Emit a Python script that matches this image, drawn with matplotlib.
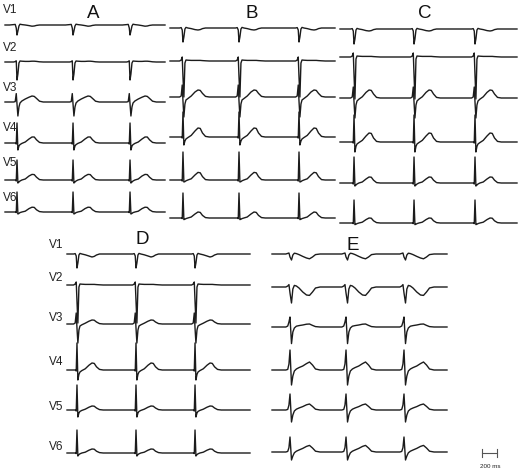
import numpy as np
import matplotlib
matplotlib.use("Agg")
import matplotlib.pyplot as plt

plt.rcParams['font.family'] = ['Liberation Sans', 'DejaVu Sans']

# figure size in pixels and trace scaling (200 ms bar = 15 px)
W, H = 520, 471
PX_PER_MS = 0.075
PX_PER_MV = 20.0

LEADS = ["V1", "V2", "V3", "V4", "V5", "V6"]

# knot times (ms, relative to QRS) shared by panels A-D, and wider ones for E
KNOTS_MS = [-100, -45, -24, -10, 0, 12, 26, 40, 65, 110, 160, 200, 230, 260, 300, 350]
E_KNOTS_MS = [-100, -55, -30, -14, 0, 20, 38, 58, 85, 120, 170, 220, 260, 300, 340, 400]

# QRS times (ms from start of each trace)
A_BEATS = [160, 907, 1667]
B_BEATS = [173, 920, 1720]
C_BEATS = [187, 987, 1800]
D_BEATS = [133, 920, 1707]
E_BEATS = [240, 987, 1760]

# amplitudes (mV) at each knot, V1..V6
A_AMPS = [
    [0, 0.02, 0.03, -0.15, -0.5, -0.3, -0.05, 0.04, 0.02, 0.0, -0.03, -0.06, -0.05, -0.02, 0.0, 0],
    [0, 0, 0.02, 0.06, -0.9, -0.6, -0.05, 0.05, 0.04, 0.03, 0.03, 0.04, 0.04, 0.03, 0.01, 0],
    [0, 0, 0.02, 0.42, -0.1, -0.7, -0.25, -0.05, 0.05, 0.15, 0.24, 0.3, 0.28, 0.18, 0.04, 0],
    [0, 0, 0, -0.05, 1.0, -0.35, -0.15, -0.08, -0.02, 0.05, 0.2, 0.3, 0.3, 0.16, 0.03, 0],
    [0, 0, 0, -0.05, 1.0, -0.15, -0.1, -0.05, 0, 0.05, 0.2, 0.28, 0.27, 0.14, 0.02, 0],
    [0, 0, 0, -0.03, 1.0, -0.1, -0.07, -0.03, 0, 0.04, 0.17, 0.24, 0.23, 0.11, 0.02, 0],
]
B_AMPS = [
    [0, 0, 0.02, -0.1, -0.7, -0.45, -0.05, 0.03, 0.0, -0.03, -0.08, -0.1, -0.08, -0.03, 0, 0],
    [0, 0, 0.05, 0.2, -0.8, -1.8, -0.1, 0.05, 0.04, 0.03, 0.03, 0.03, 0.03, 0.02, 0.01, 0],
    [0, 0, 0.05, 0.6, -0.2, -1.0, -0.35, -0.15, -0.08, 0.05, 0.25, 0.35, 0.33, 0.18, 0.03, 0],
    [0, 0, 0, -0.05, 1.25, -0.4, -0.2, -0.1, -0.03, 0.08, 0.3, 0.45, 0.43, 0.2, 0.03, 0],
    [0, 0, 0, -0.05, 1.4, -0.1, -0.08, -0.04, 0, 0.06, 0.25, 0.38, 0.36, 0.17, 0.02, 0],
    [0, 0, 0, -0.03, 1.25, -0.08, -0.06, -0.03, 0, 0.05, 0.2, 0.3, 0.28, 0.13, 0.02, 0],
]
C_AMPS = [
    [0, 0, 0.02, -0.1, -0.75, -0.5, -0.05, 0.03, 0.0, -0.03, -0.08, -0.1, -0.08, -0.03, 0, 0],
    [0, 0, 0.05, 0.2, -0.9, -2.1, -0.1, 0.05, 0.04, 0.03, 0.03, 0.03, 0.03, 0.02, 0.01, 0],
    [0, 0, 0.05, 0.55, -0.2, -1.0, -0.35, -0.15, -0.06, 0.06, 0.28, 0.4, 0.38, 0.2, 0.03, 0],
    [0, 0, 0, -0.05, 1.35, -0.5, -0.22, -0.1, -0.03, 0.08, 0.3, 0.45, 0.43, 0.2, 0.03, 0],
    [0, 0, 0, -0.05, 1.3, -0.15, -0.1, -0.05, 0, 0.05, 0.2, 0.3, 0.29, 0.14, 0.02, 0],
    [0, 0, 0, -0.03, 1.15, -0.08, -0.06, -0.03, 0, 0.04, 0.17, 0.25, 0.24, 0.11, 0.02, 0],
]
D_AMPS = [
    [0, 0, 0.02, -0.1, -0.7, -0.45, -0.05, 0.03, 0.0, -0.04, -0.1, -0.15, -0.12, -0.05, 0, 0],
    [0, 0, 0.05, 0.15, -0.8, -1.9, -0.1, 0.05, 0.04, 0.03, 0.03, 0.03, 0.03, 0.02, 0.01, 0],
    [0, 0, 0.05, 0.55, -0.2, -0.95, -0.3, -0.1, -0.04, 0.04, 0.14, 0.2, 0.19, 0.1, 0.02, 0],
    [0, 0, 0, -0.05, 1.35, -0.5, -0.22, -0.1, -0.03, 0.06, 0.24, 0.35, 0.33, 0.16, 0.03, 0],
    [0, 0, 0, -0.05, 1.25, -0.35, -0.15, -0.07, -0.02, 0.04, 0.14, 0.2, 0.19, 0.1, 0.02, 0],
    [0, 0, 0, -0.03, 1.15, -0.15, -0.08, -0.04, 0, 0.04, 0.14, 0.2, 0.19, 0.09, 0.02, 0],
]
E_AMPS = [
    [0, 0, 0.03, 0.05, -0.15, -0.3, -0.05, 0.04, 0.02, -0.03, -0.12, -0.2, -0.24, -0.15, -0.03, 0],
    [0, 0, 0.05, 0.12, -0.3, -0.8, -0.1, 0.08, 0.05, -0.05, -0.25, -0.4, -0.42, -0.25, -0.05, 0],
    [0, 0, 0.05, 0.25, 0.5, -0.83, -0.25, -0.05, 0.04, 0.07, 0.1, 0.14, 0.15, 0.08, 0.02, 0],
    [0, 0, 0.03, 0.3, 1.0, -0.75, -0.3, -0.05, 0.05, 0.12, 0.2, 0.32, 0.4, 0.25, 0.05, 0],
    [0, 0, 0.03, 0.25, 0.8, -0.6, -0.25, -0.05, 0.04, 0.1, 0.17, 0.26, 0.3, 0.18, 0.04, 0],
    [0, 0, 0.03, 0.22, 0.75, -0.4, -0.2, -0.04, 0.04, 0.1, 0.18, 0.28, 0.33, 0.2, 0.04, 0],
]

SCALE_MS = 200

fig = plt.figure(figsize=(W / 100, H / 100), dpi=100)
fig.patch.set_facecolor("white")


def add_panel(left, top, width, height):
    ax = fig.add_axes([left / W, 1 - (top + height) / H, width / W, height / H])
    ax.set_xlim(0, width / PX_PER_MS)
    ax.set_ylim(-height / PX_PER_MV, 0)
    ax.axis("off")
    return ax


def draw_panel(ax, top, baselines_px, beats, knots, amps):
    length = ax.get_xlim()[1]
    for base_px, lead_amps in zip(baselines_px, amps):
        base = -(base_px - top) / PX_PER_MV
        xs, ys = [0], [0]
        for b in beats:
            xs.extend(b + t for t in knots)
            ys.extend(lead_amps)
        xs.append(length)
        ys.append(0)
        ax.plot(xs, np.array(ys) + base, color="#1c1c1c", lw=1.0,
                solid_joinstyle="round", clip_on=False)


def ftext(x, y, s, **kw):
    fig.text(x / W, 1 - y / H, s, **kw)


# top row
axA = add_panel(5, 0, 160, 235)
draw_panel(axA, 0, [25, 62, 102, 143, 180, 212], A_BEATS, KNOTS_MS, A_AMPS)
axB = add_panel(170, 0, 165, 235)
draw_panel(axB, 0, [28, 61, 97, 137, 180, 218], B_BEATS, KNOTS_MS, B_AMPS)
axC = add_panel(340, 0, 177, 235)
draw_panel(axC, 0, [29, 57, 98, 142, 183, 223], C_BEATS, KNOTS_MS, C_AMPS)

# bottom row
axD = add_panel(67, 235, 183, 236)
draw_panel(axD, 235, [254, 285, 324, 370, 410, 453], D_BEATS, KNOTS_MS, D_AMPS)
axE = add_panel(272, 235, 175, 236)
draw_panel(axE, 235, [254, 287, 327, 370, 410, 452], E_BEATS, E_KNOTS_MS, E_AMPS)

# panel letters
for s, x, y in [("A", 93, 14), ("B", 252, 13), ("C", 425, 13), ("D", 142, 239), ("E", 353, 246)]:
    ftext(x, y, s, fontsize=13.5, ha="center", va="center", color="#111")

# lead labels
for lead, y in zip(LEADS, [10, 48, 88, 128, 163, 198]):
    ftext(3, y, lead, fontsize=8.5, ha="left", va="center", color="#222")
for lead, y in zip(LEADS, [245, 278, 318, 362, 407, 447]):
    ftext(49, y, lead, fontsize=8.5, ha="left", va="center", color="#222")

# 200 ms scale bar, drawn in panel E's time axis
x0 = (482 - 272) / PX_PER_MS
yb = -(453 - 235) / PX_PER_MV
tick = 4 / PX_PER_MV
axE.plot([x0, x0 + SCALE_MS], [yb, yb], color="#555", lw=0.8, clip_on=False)
for xx in (x0, x0 + SCALE_MS):
    axE.plot([xx, xx], [yb - tick, yb + tick], color="#555", lw=0.8, clip_on=False)
ftext(490, 466, "200 ms", fontsize=4.5, ha="center", va="center", color="#222")

fig.savefig("out.png", dpi=100)
